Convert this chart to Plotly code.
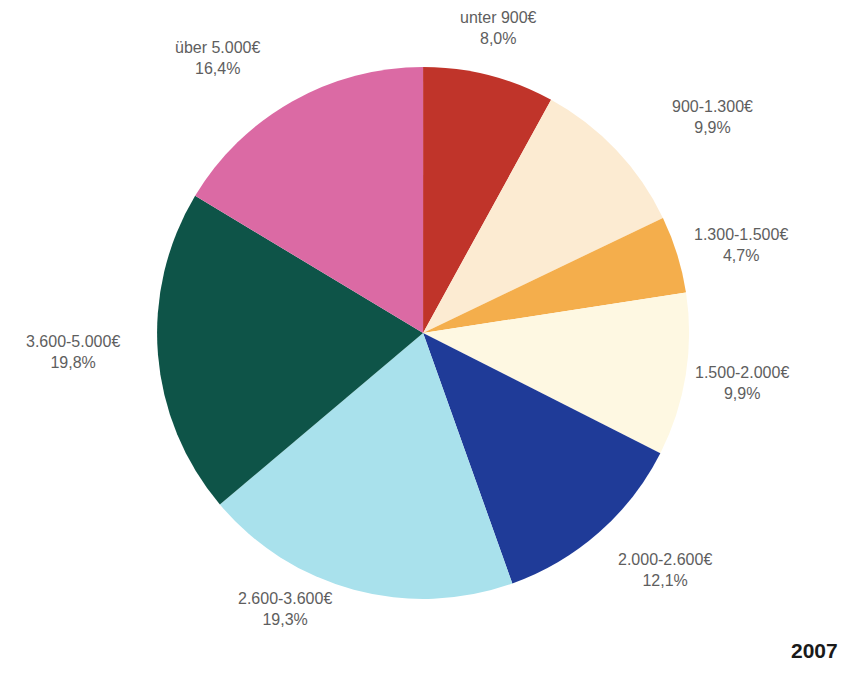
import plotly.graph_objects as go

# Einkommensklassen (Haushaltsnettoeinkommen), 2007
categories = ["unter 900€", "900-1.300€", "1.300-1.500€", "1.500-2.000€",
              "2.000-2.600€", "2.600-3.600€", "3.600-5.000€", "über 5.000€"]
shares = [8.0, 9.9, 4.7, 9.9, 12.1, 19.3, 19.8, 16.4]
colors = ["#c0342a", "#fcebd2", "#f4ae4c", "#fef8e2",
          "#1f3b98", "#a9e1ec", "#0e5448", "#db6aa4"]
year = "2007"

# label anchor points (paper coords) for each slice caption
label_x = [0.584, 0.835, 0.869, 0.870, 0.780, 0.334, 0.086, 0.256]
label_y = [0.958, 0.827, 0.637, 0.433, 0.157, 0.099, 0.479, 0.914]

fig = go.Figure()
fig.add_trace(go.Pie(
    labels=categories,
    values=shares,
    sort=False,
    direction="clockwise",
    rotation=0,
    marker=dict(colors=colors, line=dict(width=0)),
    textinfo="none",
    hoverinfo="label+percent",
    showlegend=False,
    domain=dict(x=[0.184, 0.808], y=[0.114, 0.901]),
))

def fmt(v):
    return f"{v:.1f}".replace(".", ",") + "%"

for cat, val, lx, ly in zip(categories, shares, label_x, label_y):
    fig.add_annotation(
        x=lx, y=ly, xref="paper", yref="paper",
        xanchor="center", yanchor="middle",
        text=f"{cat}<br>{fmt(val)}",
        showarrow=False,
        align="center",
        font=dict(family="Liberation Sans, Arial, sans-serif", size=16, color="#5e5e5e"),
    )

fig.add_annotation(
    x=0.955, y=0.038, xref="paper", yref="paper",
    xanchor="center", yanchor="middle",
    text=f"<b>{year}</b>", showarrow=False,
    font=dict(family="Liberation Sans, Arial, sans-serif", size=21, color="#1a1a1a"),
)

fig.update_layout(
    width=853, height=676,
    margin=dict(l=0, r=0, t=0, b=0),
    paper_bgcolor="white",
    plot_bgcolor="white",
)

fig.write_html("out.html")
